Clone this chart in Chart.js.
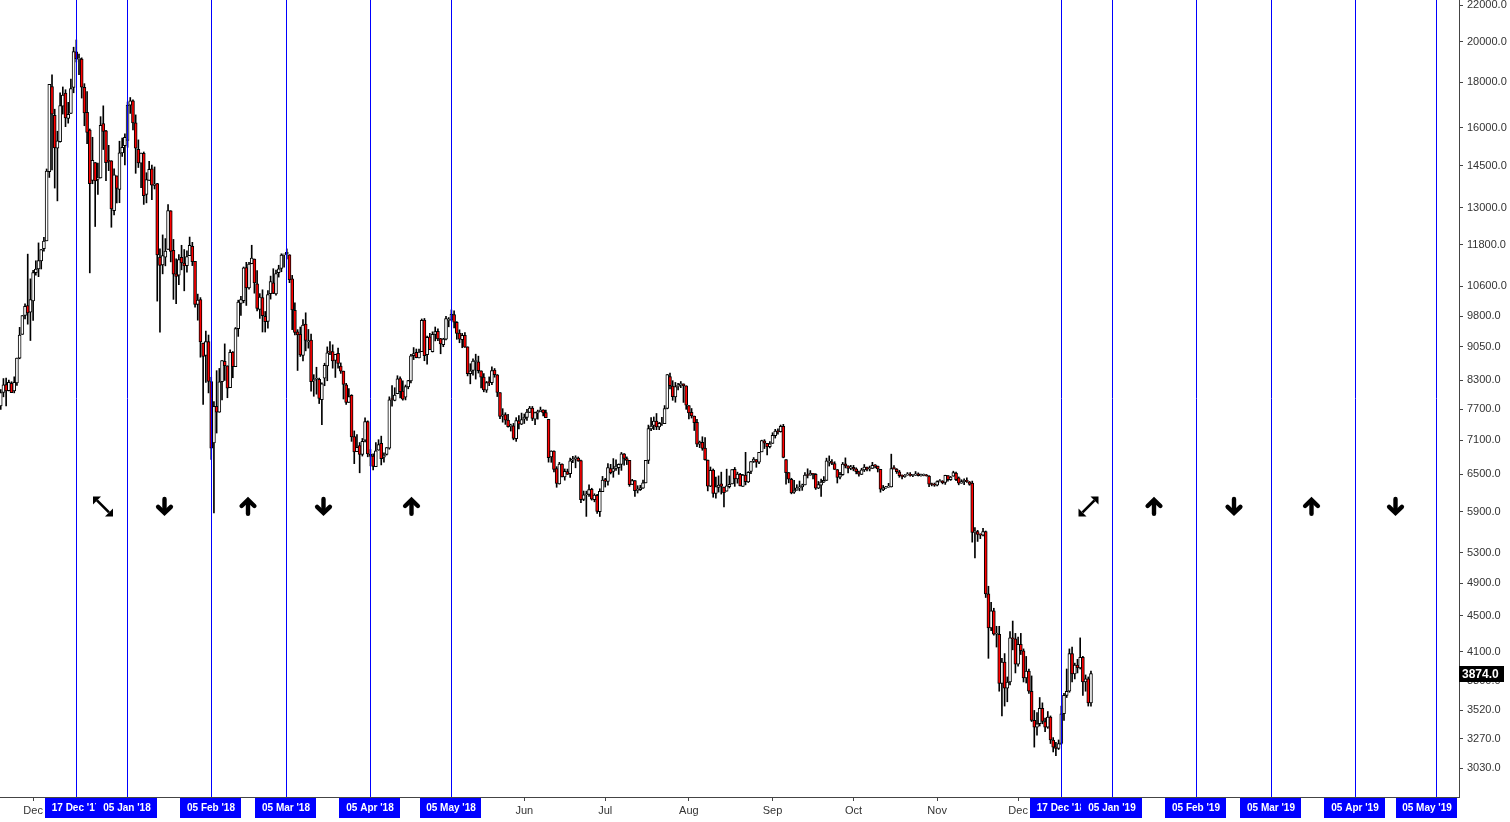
<!DOCTYPE html>
<html><head><meta charset="utf-8">
<script src="https://cdn.jsdelivr.net/npm/chart.js@4.4.0/dist/chart.umd.min.js"></script>
<style>html,body{margin:0;padding:0;background:#fff;overflow:hidden}#wrap{width:1510px;height:822px;position:relative}</style>
</head><body><div id="wrap"><canvas id="c" width="1510" height="822"></canvas></div>
<script>
// first candle date; one candle per calendar day
const startDate = '2017-11-19';
const opens = [
7766,8039,8205,8077,8233,8074,8241,8789,9352,9823,10077,9907,
10198,10978,11082,11315,11685,11923,14266,17802,16523,15168,15427,16919,17500,16384,16601,17760,19475,19106,19118,17760,16642,15898,13948,14609,13995,14036,16163,15864,14695,14681,12898,
14112,13625,14978,15270,15477,16960,17150,16200,15123,14588,14968,13453,13952,14370,13767,13836,11431,11198,11429,11656,12889,11633,10945,10904,11421,11256,11174,11475,11756,11306,10109,
10237,9142,8852,9175,8270,7051,7756,7637,8271,8720,8616,8141,8927,8599,9489,10136,10207,11124,10552,11232,11372,10660,9977,10287,9796,9669,10393,10688,
10385,10978,11101,11497,11532,11500,10803,9951,9414,9350,8853,9604,9173,9214,8290,8322,8321,7890,8344,8613,8938,8939,8736,8901,8613,8499,8200,7836,7979,7171,6892,
7003,6844,7103,7456,6848,6816,6630,6920,7044,6796,6843,6955,7901,7874,8013,8337,8071,7944,8159,8286,8849,8926,8795,8940,9701,8867,9290,8939,9346,9427,
9251,9104,9233,9696,9700,9845,9645,9380,9223,9325,9052,8441,8515,8714,8706,8505,8370,8091,8255,8246,8522,8419,8037,7561,7593,7486,7362,7371,7130,7469,7406,
7501,7537,7633,7722,7500,7625,7650,7686,7632,7499,6799,6905,6596,6342,6674,6455,6546,6510,6742,6770,6780,6737,6090,6164,6171,6253,6084,6153,5898,6214,
6411,6380,6596,6550,6599,6613,6668,6857,6772,6739,6330,6396,6235,6247,6272,6357,6739,7315,7379,7464,7352,7417,7414,7716,8380,8176,7950,8169,8205,8221,8181,
7769,7634,7562,7438,7031,7063,6958,6746,6305,6571,6185,6283,6341,6287,6221,6294,6340,6583,6422,6501,6301,6486,6371,6551,6720,6754,6710,6891,7091,7044,6984,
7044,7189,7279,7264,7361,6755,6528,6417,6205,6236,6276,6292,6322,6484,6486,6515,6502,6272,6319,6371,6398,6705,6711,6686,6582,6452,6496,6679,6647,6604,
6619,6593,6544,6497,6574,6622,6590,6600,6653,6641,6586,6240,6276,6287,6292,6601,6591,6542,6478,6460,6490,6497,6480,6487,6509,6479,6483,6487,6472,6337,6330,
6318,6378,6388,6365,6477,6411,6468,6522,6442,6351,6379,6392,6374,6352,5590,5600,5560,5550,5600,4764,4361,4560,4290,4290,3775,3990,3730,3790,4250,4240,
3970,4180,4110,3830,3900,3700,3430,3370,3400,3540,3420,3370,3460,3260,3200,3190,3230,3490,3660,3700,4080,3870,3960,3930,4040,3790,3820,3590];
const highs = [
8101,8336,8348,8302,8268,8374,8790,9522,9818,10125,11517,10801,
11046,11320,11858,11657,12033,14369,17899,18353,16783,15850,17513,17781,17653,17086,18154,19716,20089,19371,19178,17934,17567,15943,15603,14612,14593,16461,16930,15888,15279,14681,14377,
14112,15444,15572,15739,17100,17300,17200,16537,15497,14973,15018,14229,14659,14511,14445,13843,11678,12107,11992,13103,12895,11966,11377,11501,11785,11656,11614,12040,11875,11307,10381,
10288,9142,9430,9334,8364,7850,8509,8558,8736,9122,8616,8985,8942,9518,10219,10324,11139,11275,11274,11786,11373,11039,10394,10498,9923,10475,10878,11089,
11052,11189,11528,11512,11675,11500,10899,10147,9466,9531,9717,9889,9470,9355,8421,8585,8346,8245,8675,9051,9177,9100,8879,9022,8682,8499,8232,8122,7994,7276,7207,
7060,7135,7530,7469,6933,6857,7060,7112,7178,6873,6968,7950,8183,8140,8398,8371,8285,8197,8298,8880,9035,9001,9000,9732,9745,9307,9375,9412,9531,9483,
9255,9256,9798,9767,9964,9940,9665,9462,9374,9396,9052,8664,8773,8881,8836,8505,8445,8274,8372,8594,8557,8423,8038,7709,7628,7595,7405,7419,7531,7573,7621,
7604,7696,7755,7754,7643,7680,7741,7686,7683,7499,6910,6907,6631,6706,6681,6592,6589,6782,6812,6821,6800,6747,6224,6223,6325,6269,6180,6170,6261,6465,
6432,6683,6671,6771,6749,6679,6880,6860,6801,6741,6416,6397,6311,6318,6403,6741,7387,7534,7544,7613,7439,7537,7771,8424,8457,8290,8253,8232,8272,8221,8181,
7769,7712,7562,7497,7087,7167,7150,6746,6625,6591,6455,6474,6537,6287,6588,6473,6580,6617,6537,6518,6500,6882,6546,6719,6790,6754,6884,7103,7113,7044,7075,
7242,7306,7317,7388,7402,6755,6530,6434,6401,6327,6388,6337,6528,6594,6564,6515,6512,6381,6422,6462,6779,6819,6752,6716,6582,6534,6704,6784,6647,6653,
6653,6611,6555,6603,6668,6623,6641,6706,6666,6641,6586,6315,6301,6350,6850,6648,6598,6567,6493,6497,6530,6530,6496,6548,6525,6506,6506,6498,6477,6354,6355,
6390,6412,6395,6485,6480,6465,6553,6536,6456,6410,6425,6441,6380,6387,5660,5620,5570,5650,5610,4860,4660,4590,4380,4380,4030,4080,3840,4320,4440,4300,
4260,4300,4130,4050,3920,3850,3520,3500,3640,3590,3450,3510,3470,3280,3240,3260,3560,3680,3920,4130,4150,3980,4020,4250,4050,3860,3840,3900];
const lows = [
7694,7950,7763,8075,8038,8032,8191,8776,9352,9736,9601,9202,
9694,10905,10862,11081,11604,11923,14057,14336,13674,13226,15405,16571,16039,16185,16601,17515,18974,18355,17275,16077,15342,10970,13828,12374,13448,14034,15114,13937,14307,12350,12755,
13154,13163,14844,14522,15202,16600,15900,14208,14424,13691,13105,13158,13952,13268,13641,10194,9402,10942,11172,11656,11288,10240,10129,10639,11057,10470,10989,11475,11179,10036,9701,
8812,7796,8251,8031,6756,5880,7236,7637,7884,8295,7931,8141,8354,8599,9301,9825,10149,10080,10513,11232,10406,9939,9746,9408,9407,9501,10247,10394,
10352,10850,11002,11136,11373,10694,9466,9335,8513,8828,8727,8958,9021,8068,7961,8005,7812,7397,8182,8289,8871,8564,8360,8562,8449,7905,7797,7836,7081,6683,6892,
6526,6816,7072,6803,6645,6575,6630,6920,6661,6709,6834,6938,7758,7867,8013,7925,7881,7886,8117,8244,8757,8797,8795,8940,8731,8651,8987,8931,9193,9199,
8891,9055,9218,9536,9700,9507,9231,9149,9031,9040,8394,8223,8410,8325,8456,8137,8054,8042,8183,8205,8365,7955,7509,7443,7400,7349,7273,7110,7081,7313,7396,
7418,7478,7633,7474,7397,7502,7650,7565,7531,6709,6706,6542,6285,6337,6457,6402,6499,6449,6698,6611,6723,6038,6071,5827,6136,6079,6052,5873,5826,6214,
6289,6319,6507,6450,6568,6499,6567,6658,6667,6300,6330,6136,6192,6233,6268,6357,6684,7280,7300,7299,7300,7383,7414,7705,8117,7878,7839,8094,8141,7835,7696,
7504,7523,7284,6984,6967,6919,6745,6226,6295,6124,6109,6207,6175,5971,6221,6273,6340,6300,6352,6308,6301,6324,6363,6513,6703,6620,6682,6891,6950,6834,6963,
7044,7142,7217,7253,6785,6334,6358,6179,6185,6236,6227,6235,6322,6439,6485,6425,6250,6263,6137,6362,6398,6641,6664,6582,6355,6425,6484,6609,6524,6578,
6560,6508,6468,6497,6547,6557,6557,6600,6608,6540,6205,6230,6268,6286,6289,6587,6515,6450,6425,6449,6484,6469,6462,6482,6471,6469,6474,6469,6294,6308,6300,
6306,6371,6341,6332,6384,6398,6468,6395,6325,6351,6329,6363,6318,5450,5230,5460,5500,5540,4720,4030,4330,4280,4150,3700,3470,3560,3600,3760,4120,3880,
3950,4070,3790,3780,3680,3420,3200,3300,3380,3400,3330,3360,3230,3160,3130,3180,3220,3430,3640,3690,3790,3820,3880,3920,3660,3700,3560,3560];
const closes = [
8036,8200,8071,8253,8038,8253,8790,9330,9818,10058,9889,10233,
10975,11075,11323,11657,11916,14291,17899,16570,15178,15455,16936,17415,16408,16564,17706,19498,19141,19114,17776,16625,15802,13831,14699,13926,14027,16099,15838,14606,14656,12952,14156,
13657,14982,15201,15599,16960,17150,16200,15170,14595,14973,13405,13980,14360,13773,13820,11490,11188,11474,11607,12899,11600,10931,10868,11359,11259,11171,11441,11787,11296,10106,10221,
9170,8830,9174,8277,6955,7755,7637,8265,8736,8621,8129,8926,8598,9494,10166,10233,11112,10552,11225,11403,10690,10005,10301,9813,9664,10366,10725,10397,
10951,11086,11489,11512,11573,10780,9965,9395,9337,8866,9578,9205,9194,8270,8300,8338,7916,8223,8630,8913,8929,8729,8879,8669,8495,8209,7833,7954,7165,6890,6973,
6845,7083,7456,6853,6811,6637,6911,7023,6770,6834,6968,7889,7895,7986,8329,8058,7902,8164,8294,8845,8895,8802,8930,9697,8845,9281,8987,9349,9419,9240,
9119,9235,9743,9700,9858,9654,9373,9234,9325,9043,8441,8504,8723,8716,8511,8368,8094,8250,8247,8513,8419,8041,7557,7587,7480,7355,7368,7135,7472,7406,7494,
7541,7643,7720,7514,7633,7653,7679,7624,7531,6786,6906,6582,6349,6675,6456,6550,6499,6734,6769,6776,6729,6084,6162,6173,6249,6093,6157,5903,6218,6404,
6385,6614,6529,6597,6639,6673,6856,6773,6741,6329,6394,6228,6238,6276,6359,6741,7321,7370,7466,7354,7419,7418,7711,8424,8181,7951,8165,8192,8218,8180,7780,
7624,7567,7434,7032,7068,6951,6753,6305,6568,6184,6295,6322,6297,6199,6308,6334,6580,6423,6506,6308,6488,6377,6534,6719,6763,6707,6884,7096,7047,6978,7037,
7193,7272,7260,7361,6792,6529,6418,6193,6238,6276,6291,6323,6489,6480,6519,6502,6269,6329,6371,6398,6734,6710,6686,6585,6446,6495,6676,6644,6601,6625,
6589,6545,6502,6576,6622,6588,6602,6652,6643,6590,6256,6274,6285,6290,6596,6596,6544,6476,6465,6489,6497,6482,6487,6510,6477,6484,6487,6476,6337,6331,6318,
6377,6388,6362,6485,6411,6453,6531,6410,6354,6378,6398,6381,6331,5590,5600,5560,5550,5600,4764,4361,4560,4290,4290,3775,3990,3730,3790,4250,4240,3970,
4180,4110,3830,3900,3700,3430,3370,3400,3540,3420,3370,3460,3260,3200,3190,3230,3490,3660,3700,4080,3870,3960,3930,4040,3790,3820,3590,3874];

const yTickValues = [22000,20000,18000,16000,14500,13000,11800,10600,9800,9050,8300,7700,7100,6500,5900,5300,4900,4500,4100,3800,3520,3270,3030];
const monthTickDates = ['2017-12-01','2018-06-01','2018-07-01','2018-08-01','2018-09-01','2018-10-01','2018-11-01','2018-12-01'];
const monthTickLabels = ['Dec','Jun','Jul','Aug','Sep','Oct','Nov','Dec'];
const markerDates = ['2017-12-17','2018-01-05','2018-02-05','2018-03-05','2018-04-05','2018-05-05','2018-12-17','2019-01-05','2019-02-05','2019-03-05','2019-04-05','2019-05-05'];
const markerLabels = ["17 Dec '17","05 Jan '18","05 Feb '18","05 Mar '18","05 Apr '18","05 May '18","17 Dec '18","05 Jan '19","05 Feb '19","05 Mar '19","05 Apr '19","05 May '19"];
// symbol drawn between marker i and marker i+1 (null = none)
const arrowKinds = ['nwse','down','up','down','up',null,'nesw','up','down','up','down'];
const arrowPrice = 5980;

// layout constants (not data)
const arrowShiftPx = [1,-5,-1,-5,0.5,0,1.5,-0.5,0,-2,-0.5];
const viewStartDate = '2017-11-18', viewStartOffset = 0.726, viewDays = 540.65;
const yMin = 2811, yMax = 22288;

const DAY = 86400000;
function utc(s){const [y,m,d]=s.split('-').map(Number);return Date.UTC(y,m-1,d);}
function dayIndex(s){return (utc(s)-utc(startDate))/DAY;}
const xMin = dayIndex(viewStartDate) + viewStartOffset;
const xMax = xMin + viewDays;

const idx = closes.map((_, i) => i);
const wickData = idx.map(i => ({x: i, y: [lows[i], highs[i]]}));
const bodyData = idx.map(i => ({x: i, y: [opens[i], closes[i]]}));
const bodyColors = idx.map(i => closes[i] >= opens[i] ? '#ffffff' : '#ff0000');

function drawArrow(ctx, kind, cx, cy){
  ctx.save();
  ctx.translate(cx, cy);
  ctx.fillStyle = '#000'; ctx.strokeStyle = '#000';
  if (kind === 'up' || kind === 'down') {
    if (kind === 'down') ctx.scale(1, -1);
    ctx.lineWidth = 4.4; ctx.lineCap = 'round'; ctx.lineJoin = 'miter';
    ctx.beginPath(); ctx.moveTo(0, 7.4); ctx.lineTo(0, -4); ctx.stroke();
    ctx.beginPath(); ctx.moveTo(-6.4, -0.4); ctx.lineTo(0, -6.6); ctx.lineTo(6.4, -0.4); ctx.stroke();
  } else {
    if (kind === 'nesw') ctx.scale(-1, 1);
    const s = 10;
    ctx.lineWidth = 2.6; ctx.lineCap = 'butt';
    ctx.beginPath(); ctx.moveTo(-s+4, -s+4); ctx.lineTo(s-4, s-4); ctx.stroke();
    ctx.beginPath(); ctx.moveTo(-s, -s); ctx.lineTo(-s+8, -s); ctx.lineTo(-s, -s+8); ctx.closePath(); ctx.fill();
    ctx.beginPath(); ctx.moveTo(s, s); ctx.lineTo(s-8, s); ctx.lineTo(s, s-8); ctx.closePath(); ctx.fill();
  }
  ctx.restore();
}

const overlay = {
  id: 'overlay',
  afterDatasetsDraw(chart){
    const {ctx, chartArea, scales:{x, y}} = chart;
    ctx.save();
    ctx.strokeStyle = '#0000ff'; ctx.lineWidth = 1;
    const px = markerDates.map(d => Math.floor(x.getPixelForValue(dayIndex(d))) + 0.5);
    px.forEach(p => { ctx.beginPath(); ctx.moveTo(p, chartArea.top); ctx.lineTo(p, chartArea.bottom); ctx.stroke(); });
    const ay = y.getPixelForValue(arrowPrice);
    arrowKinds.forEach((k, i) => { if (k) drawArrow(ctx, k, (px[i] + px[i+1]) / 2 + arrowShiftPx[i], ay); });
    ctx.restore();
  },
  afterDraw(chart){
    const {ctx, chartArea, scales:{x, y}} = chart;
    ctx.save();
    markerDates.forEach((d, i) => {
      const cx = Math.floor(x.getPixelForValue(dayIndex(d)));
      const left = Math.min(cx - 31, chartArea.right - 63);
      ctx.fillStyle = '#0000ff';
      ctx.fillRect(left, chartArea.bottom + 1, 61, 20);
      ctx.fillStyle = '#ffffff';
      ctx.font = 'bold 10px "Liberation Sans", Arial, sans-serif';
      ctx.textAlign = 'center'; ctx.textBaseline = 'middle';
      ctx.fillText(markerLabels[i], left + 31, chartArea.bottom + 11.5);
    });
    const last = closes[closes.length - 1];
    const py = Math.round(y.getPixelForValue(last));
    ctx.fillStyle = '#000';
    ctx.fillRect(chartArea.right, py - 8, 45, 16);
    ctx.fillStyle = '#fff';
    ctx.font = 'bold 12px "Liberation Sans", Arial, sans-serif';
    ctx.textAlign = 'left'; ctx.textBaseline = 'middle';
    ctx.fillText(last.toFixed(1), chartArea.right + 3, py + 0.5);
    ctx.restore();
  }
};

const axisFont = {family: '"Liberation Sans", Arial, sans-serif', size: 11};
new Chart(document.getElementById('c'), {
  type: 'bar',
  data: { datasets: [
    {label: 'body', data: bodyData, backgroundColor: bodyColors, borderColor: '#000', borderWidth: 1,
     borderSkipped: false, barThickness: 3, grouped: false, minBarLength: 1, order: 0},
    {label: 'wick', data: wickData, backgroundColor: '#000', borderWidth: 0, barThickness: 1, grouped: false, order: 1}
  ]},
  options: {
    responsive: false, animation: false,
    layout: {padding: 0},
    plugins: {legend: {display: false}, tooltip: {enabled: false}},
    scales: {
      x: {type: 'linear', min: xMin, max: xMax, bounds: 'data', offset: false,
          grid: {display: true, offset: false, drawOnChartArea: false, drawTicks: true, tickLength: 4, color: '#444'},
          border: {display: true, color: '#444', width: 1},
          ticks: {autoSkip: false, maxRotation: 0, padding: 3, color: '#333', font: axisFont,
                  callback: v => { const k = monthTickDates.findIndex(d => dayIndex(d) === v); return k >= 0 ? monthTickLabels[k] : ''; }},
          afterBuildTicks: s => { s.ticks = monthTickDates.map(d => ({value: dayIndex(d)})); },
          afterFit: s => { s.height = 25; s.paddingLeft = 0; s.paddingRight = 0; }},
      y: {type: 'logarithmic', position: 'right', min: yMin, max: yMax, bounds: 'data',
          grid: {display: true, drawOnChartArea: false, drawTicks: true, tickLength: 4, color: '#444'},
          border: {display: true, color: '#444', width: 1},
          ticks: {autoSkip: false, padding: 4, color: '#333', font: axisFont, callback: v => Number(v).toFixed(1)},
          afterBuildTicks: s => { s.ticks = yTickValues.map(v => ({value: v})); },
          afterFit: s => { s.width = 51; s.paddingTop = 0; s.paddingBottom = 0; }}
    }
  },
  plugins: [overlay]
});
</script></body></html>
